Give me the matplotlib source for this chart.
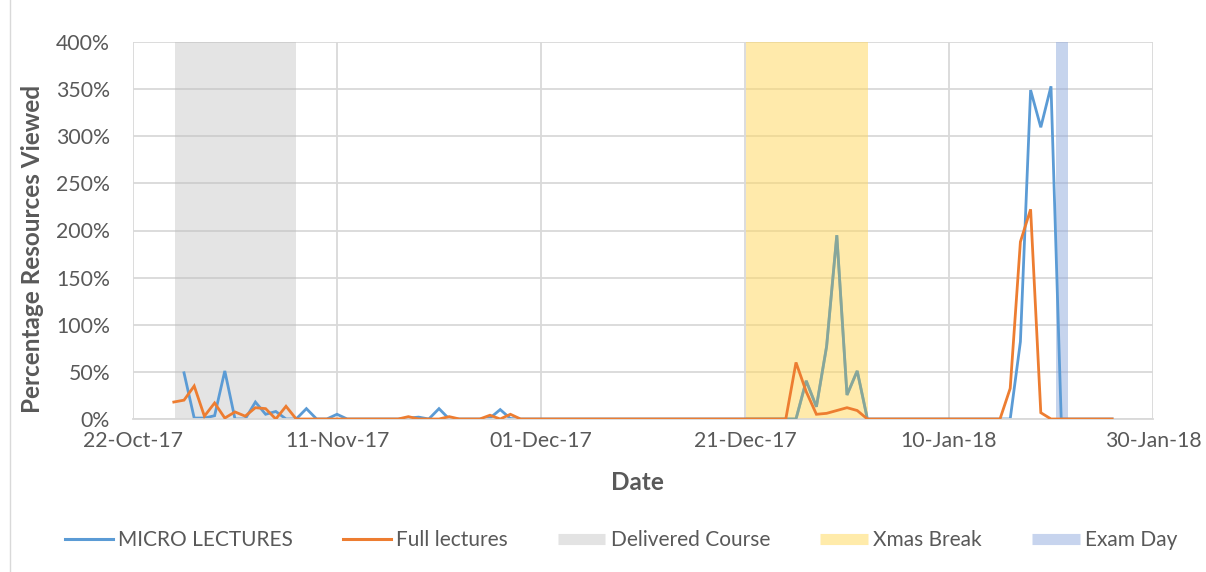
import numpy as np
import pandas as pd
import matplotlib
matplotlib.use("Agg")
import matplotlib.pyplot as plt
import matplotlib.dates as mdates
from matplotlib.ticker import PercentFormatter
from matplotlib.lines import Line2D
from matplotlib.patches import Rectangle

# ---------------- data ----------------
start_date = "2017-10-26"
micro_lectures = [
    np.nan, 49, 1, 1, 3.5, 51, 0, 0, 18, 5,
    8, 0, 0, 11, 0, 0, 5, 0, 0, 0,
    0, 0, 0, 1, 2, 0, 11, 0, 0, 0,
    0, 1, 10, 0.5, 0, 0, 0, 0, 0, 0,
    0, 0, 0, 0, 0, 0, 0, 0, 0, 0,
    0, 0, 0, 0, 0, 0, 0, 0, 0, 0,
    0, 0, 40.5, 13, 77, 195, 25.5, 51, 0, 0,
    0, 0, 0, 0, 0, 0, 0, 0, 0, 0,
    0, 0, 0, 82, 349, 309.5, 353, 0, 0, 0,
    0, 0, 0,
]
full_lectures = [
    18, 20, 35, 3, 17, 1, 7.5, 3, 12, 11,
    0, 13.5, 0, 0, 0, 0, 0, 0, 0, 0,
    0, 0, 0, 2.5, 0, 0, 0, 2.5, 0, 0,
    0, 4, 0, 5, 0, 0, 0, 0, 0, 0,
    0, 0, 0, 0, 0, 0, 0, 0, 0, 0,
    0, 0, 0, 0, 0, 0, 0, 0, 0, 0,
    0, 60, 29, 5, 6, 9, 12, 9, 0, 0,
    0, 0, 0, 0, 0, 0, 0, 0, 0, 0,
    0, 0, 32.5, 188, 222.5, 6.7, 0, 0, 0, 0,
    0, 0, 0,
]
delivered_course = ("2017-10-26 02:00", "2017-11-07 00:00")
xmas_break = ("2017-12-21 02:00", "2018-01-02 02:00")
exam_day = ("2018-01-20 12:00", "2018-01-21 17:00")
x_ticks = ["2017-10-22", "2017-11-11", "2017-12-01", "2017-12-21", "2018-01-10", "2018-01-30"]
y_ticks = [0, 50, 100, 150, 200, 250, 300, 350, 400]

dates = pd.date_range(start_date, periods=len(full_lectures), freq="D")

# ---------------- style ----------------
plt.rcParams["font.family"] = ["Lato", "DejaVu Sans"]
TXT = "#595959"
BLUE = "#5B9BD5"
ORANGE = "#ED7D31"
GRID = "#D9D9D9"

W, H = 1206, 572
fig = plt.figure(figsize=(W / 100, H / 100), dpi=100)
ax = fig.add_axes([133 / W, 1 - 419 / H, (1153 - 133) / W, (419 - 42) / H])

# outer chart frame (left edge)
fig.add_artist(Line2D([9.5 / W, 9.5 / W], [0, 1], transform=fig.transFigure,
                      color="#D9D9D9", lw=1))

ax.set_xlim(pd.Timestamp("2017-10-22"), pd.Timestamp("2018-01-30"))
ax.set_ylim(0, 400)

ax.set_axisbelow(True)
ax.grid(True, color=GRID, lw=1.3, zorder=0)

# shaded periods
ax.axvspan(pd.Timestamp(delivered_course[0]), pd.Timestamp(delivered_course[1]),
           color="#BFBFBF", alpha=0.42, lw=0, zorder=1)
ax.axvspan(pd.Timestamp(exam_day[0]), pd.Timestamp(exam_day[1]),
           color="#8FAADC", alpha=0.5, lw=0, zorder=1)

# lines
ax.plot(dates, micro_lectures, color=BLUE, lw=2.0, zorder=2,
        solid_joinstyle="miter")
ax.axvspan(pd.Timestamp(xmas_break[0]), pd.Timestamp(xmas_break[1]),
           color="#FFD966", alpha=0.55, lw=0, zorder=2.5)
# blue line as seen through the Xmas band
tinted, = ax.plot(dates, micro_lectures, color="#86A69B", lw=2.0, zorder=2.6,
                  solid_joinstyle="miter")
x0 = mdates.date2num(pd.Timestamp(xmas_break[0]))
x1 = mdates.date2num(pd.Timestamp(xmas_break[1]))
clip = Rectangle((x0, 0), x1 - x0, 400, transform=ax.transData)
tinted.set_clip_path(clip)
ax.plot(dates, full_lectures, color=ORANGE, lw=2.0, zorder=3,
        solid_joinstyle="miter")

# axes formatting
for s in ["top", "right", "left"]:
    ax.spines[s].set_visible(False)
ax.spines["bottom"].set_color(GRID)
ax.spines["bottom"].set_linewidth(1.3)

ax.set_xticks([pd.Timestamp(t) for t in x_ticks])
ax.xaxis.set_major_formatter(mdates.DateFormatter("%d-%b-%y"))
ax.set_yticks(y_ticks)
ax.yaxis.set_major_formatter(PercentFormatter(xmax=100, decimals=0))
ax.tick_params(axis="both", length=0, labelsize=15.3, labelcolor=TXT)
ax.tick_params(axis="y", pad=16.5)
ax.tick_params(axis="x", pad=8.5)

fig.text(33 / W, 1 - 249 / H, "Percentage Resources Viewed", rotation=90,
         ha="center", va="center", fontsize=17.5, fontweight="bold", color=TXT)
fig.text(637 / W, 1 - 483 / H, "Date", ha="center", va="center",
         fontsize=17.5, fontweight="bold", color=TXT)

handles = [
    Line2D([], [], color=BLUE, lw=2.2),
    Line2D([], [], color=ORANGE, lw=2.2),
    Line2D([], [], color="#E3E3E3", lw=8, solid_capstyle="butt"),
    Line2D([], [], color="#FFEBAA", lw=8, solid_capstyle="butt"),
    Line2D([], [], color="#C7D4EE", lw=8, solid_capstyle="butt"),
]
labels = ["MICRO LECTURES", "Full lectures", "Delivered Course", "Xmas Break", "Exam Day"]
fig.legend(handles, labels, loc="center", ncol=5,
           bbox_to_anchor=(621 / W, 1 - 540 / H), frameon=False,
           fontsize=15, handlelength=2.3, handletextpad=0.25,
           columnspacing=2.4, labelcolor=TXT)

fig.savefig("out.png", dpi=100)
